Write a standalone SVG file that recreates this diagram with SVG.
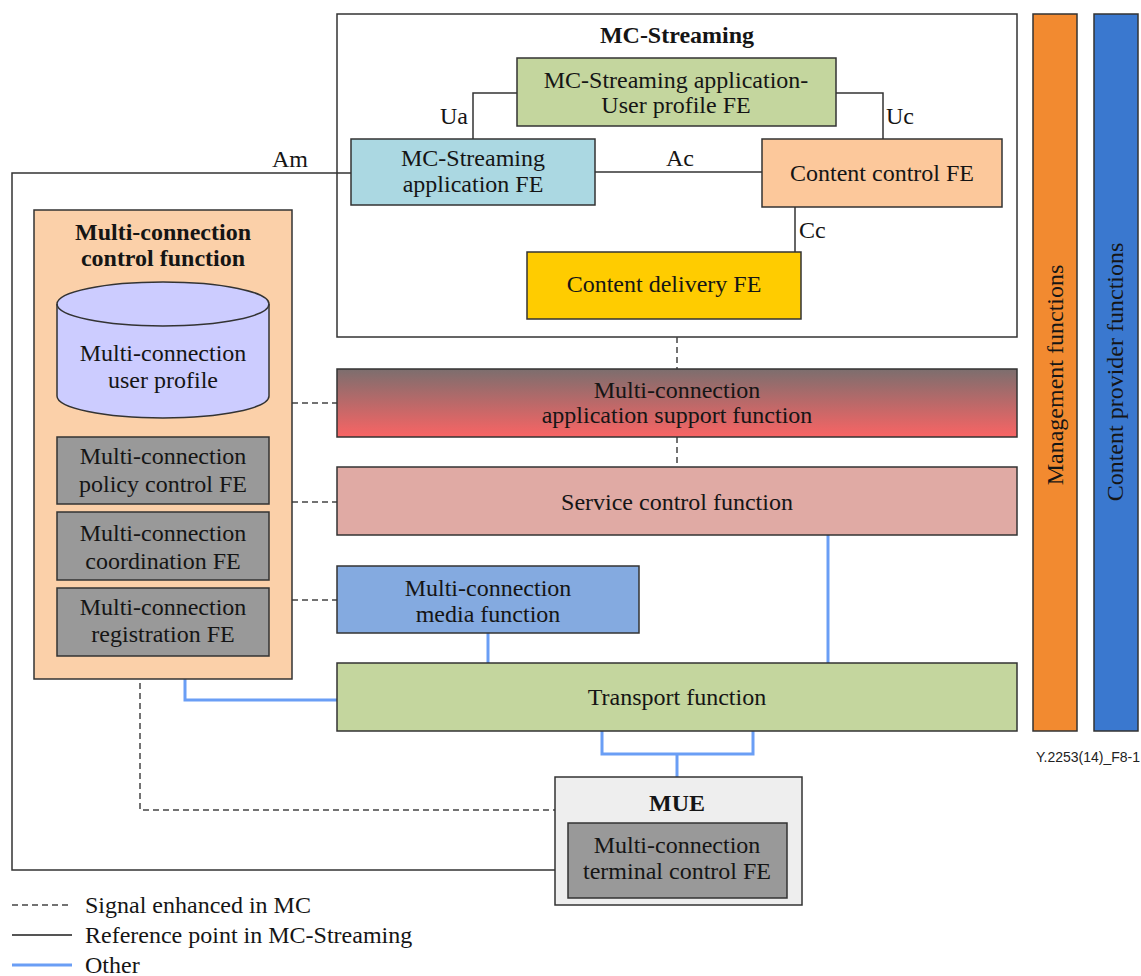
<svg xmlns="http://www.w3.org/2000/svg" width="1141" height="976" viewBox="0 0 1141 976">
  <style>
    .box { stroke: #333333; stroke-width: 1.5; }
    .t { font-family: "Liberation Serif", "Times New Roman", serif; font-size: 24px; fill: #151515; text-anchor: middle; }
    .b { font-weight: bold; }
    .ref { fill: none; stroke: #333333; stroke-width: 1.5; }
    .sig { fill: none; stroke: #444444; stroke-width: 1.5; stroke-dasharray: 6 4; }
    .oth { fill: none; stroke: #6a9ef5; stroke-width: 3; }
    .lbl { font-family: "Liberation Serif", "Times New Roman", serif; font-size: 24px; fill: #151515; }
  </style>
  <defs>
    <linearGradient id="asfGrad" x1="0" y1="0" x2="0" y2="1">
      <stop offset="0" stop-color="#7c6e6e"/>
      <stop offset="1" stop-color="#f96464"/>
    </linearGradient>
  </defs>
  <rect width="1141" height="976" fill="#ffffff"/>

  <!-- MC-Streaming container (drawn first so its reference points sit on top) -->
  <g id="mc-streaming">
    <rect class="box" x="337" y="14" width="680" height="323" fill="#ffffff"/>
    <text class="t b" x="677" y="43">MC-Streaming</text>
  </g>

  <!-- connectors -->
  <g id="connectors">
    <!-- reference points in MC-Streaming -->
    <polyline class="ref" points="473,139 473,93 517,93"/>
    <polyline class="ref" points="836,93 883,93 883,139"/>
    <line class="ref" x1="595" y1="172" x2="762" y2="172"/>
    <line class="ref" x1="795" y1="207" x2="795" y2="252"/>
    <polyline class="ref" points="351,173 12,173 12,870 555,870"/>
    <text class="lbl" x="440" y="124">Ua</text>
    <text class="lbl" x="886" y="124">Uc</text>
    <text class="lbl" x="666" y="166">Ac</text>
    <text class="lbl" x="799" y="238">Cc</text>
    <text class="lbl" x="272" y="167">Am</text>
    <!-- signals enhanced in MC -->
    <line class="sig" x1="677" y1="337" x2="677" y2="369"/>
    <line class="sig" x1="677" y1="437" x2="677" y2="467"/>
    <line class="sig" x1="292" y1="403" x2="337" y2="403"/>
    <line class="sig" x1="292" y1="502" x2="337" y2="502"/>
    <line class="sig" x1="292" y1="600" x2="337" y2="600"/>
    <polyline class="sig" points="140,683 140,810 555,810"/>
    <!-- other -->
    <line class="oth" x1="828" y1="535" x2="828" y2="663"/>
    <line class="oth" x1="488" y1="633" x2="488" y2="663"/>
    <polyline class="oth" points="185,679 185,700 337,700"/>
    <polyline class="oth" points="602,731 602,754 753,754 753,731"/>
    <line class="oth" x1="677" y1="754" x2="677" y2="777"/>
  </g>

  <g id="user-profile-fe">
    <rect class="box" x="517" y="58" width="319" height="68" fill="#c4d69e"/>
    <text class="t" x="676" y="88">MC-Streaming application-</text>
    <text class="t" x="676" y="113">User profile FE</text>
  </g>
  <g id="app-fe">
    <rect class="box" x="351" y="139" width="244" height="66" fill="#abd8e2"/>
    <text class="t" x="473" y="166">MC-Streaming</text>
    <text class="t" x="473" y="192">application FE</text>
  </g>
  <g id="content-control-fe">
    <rect class="box" x="762" y="139" width="240" height="68" fill="#fcc89b"/>
    <text class="t" x="882" y="181">Content control FE</text>
  </g>
  <g id="content-delivery-fe">
    <rect class="box" x="527" y="252" width="274" height="67" fill="#ffcc00"/>
    <text class="t" x="664" y="292">Content delivery FE</text>
  </g>

  <!-- Multi-connection control function -->
  <g id="mc-control-function">
    <rect class="box" x="34" y="210" width="258" height="469" fill="#fbd0a9"/>
    <text class="t b" x="163" y="240">Multi-connection</text>
    <text class="t b" x="163" y="266">control function</text>
  </g>
  <g id="mc-user-profile">
    <path class="box" d="M57,304 L57,396 A106,22 0 0 0 269,396 L269,304 A106,22 0 0 0 57,304 Z" fill="#ccccff"/>
    <path class="box" d="M57,304 A106,22 0 0 0 269,304" fill="none"/>
    <text class="t" x="163" y="361">Multi-connection</text>
    <text class="t" x="163" y="388">user profile</text>
  </g>
  <g id="policy-control-fe">
    <rect class="box" x="57" y="437" width="212" height="67" fill="#999999"/>
    <text class="t" x="163" y="464">Multi-connection</text>
    <text class="t" x="163" y="492">policy control FE</text>
  </g>
  <g id="coordination-fe">
    <rect class="box" x="57" y="512" width="212" height="68" fill="#999999"/>
    <text class="t" x="163" y="541">Multi-connection</text>
    <text class="t" x="163" y="569">coordination FE</text>
  </g>
  <g id="registration-fe">
    <rect class="box" x="57" y="588" width="212" height="68" fill="#999999"/>
    <text class="t" x="163" y="615">Multi-connection</text>
    <text class="t" x="163" y="642">registration FE</text>
  </g>

  <!-- functional layers -->
  <g id="app-support-function">
    <rect class="box" x="337" y="369" width="680" height="68" fill="url(#asfGrad)"/>
    <text class="t" x="677" y="398">Multi-connection</text>
    <text class="t" x="677" y="423">application support function</text>
  </g>
  <g id="service-control-function">
    <rect class="box" x="337" y="467" width="680" height="68" fill="#e0aaa4"/>
    <text class="t" x="677" y="510">Service control function</text>
  </g>
  <g id="media-function">
    <rect class="box" x="337" y="566" width="302" height="67" fill="#84aae0"/>
    <text class="t" x="488" y="596">Multi-connection</text>
    <text class="t" x="488" y="622">media function</text>
  </g>
  <g id="transport-function">
    <rect class="box" x="337" y="663" width="680" height="68" fill="#c4d69e"/>
    <text class="t" x="677" y="705">Transport function</text>
  </g>

  <!-- MUE -->
  <g id="mue">
    <rect class="box" x="555" y="777" width="247" height="128" fill="#eeeeee"/>
    <text class="t b" x="677" y="811">MUE</text>
  </g>
  <g id="terminal-control-fe">
    <rect class="box" x="568" y="823" width="219" height="75" fill="#999999"/>
    <text class="t" x="677" y="853">Multi-connection</text>
    <text class="t" x="677" y="879">terminal control FE</text>
  </g>

  <!-- side bars -->
  <g id="management-functions">
    <rect class="box" x="1033" y="14" width="44" height="717" fill="#f28a30"/>
    <text class="t" transform="translate(1063,375) rotate(-90)">Management functions</text>
  </g>
  <g id="content-provider-functions">
    <rect class="box" x="1094" y="14" width="44" height="717" fill="#3a78cf"/>
    <text class="t" transform="translate(1123,372) rotate(-90)">Content provider functions</text>
  </g>

  <text x="1088" y="762" font-family="Liberation Sans, Arial, sans-serif" font-size="14" fill="#222222" text-anchor="middle">Y.2253(14)_F8-1</text>

  <!-- legend -->
  <g id="legend">
    <line class="sig" x1="12" y1="905" x2="70" y2="905"/>
    <text class="lbl" x="85" y="913">Signal enhanced in MC</text>
    <line x1="12" y1="935" x2="72" y2="935" stroke="#555555" stroke-width="2"/>
    <text class="lbl" x="85" y="943">Reference point in MC-Streaming</text>
    <line x1="12" y1="965" x2="72" y2="965" stroke="#6a9ef5" stroke-width="3"/>
    <text class="lbl" x="85" y="973">Other</text>
  </g>
</svg>
